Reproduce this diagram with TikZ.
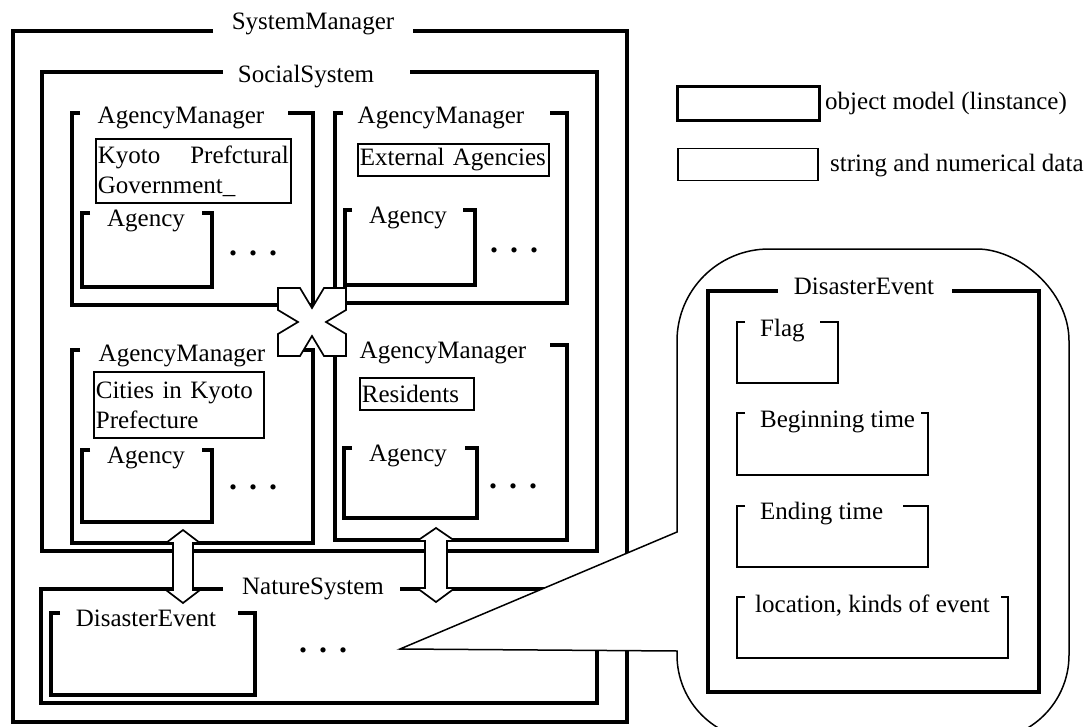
\documentclass[tikz,border=0pt]{standalone}
\usepackage{fontspec}
\setmainfont{Liberation Serif}
\hyphenpenalty=10000
\exhyphenpenalty=10000
\begin{document}
\begin{tikzpicture}[x=1pt,y=-1pt,
  font=\fontsize{25}{30}\selectfont,
  objframe/.style={line width=3.4pt, line join=miter},
  subframe/.style={line width=3.1pt, line join=miter},
  attrframe/.style={line width=1.9pt, line join=miter},
  strbox/.style={draw, line width=1.7pt, anchor=north west, inner xsep=2pt, inner ysep=0pt, align=left},
  ttl/.style={anchor=base, inner sep=0pt},
  ttlw/.style={anchor=base west, inner sep=0pt},
  dotsty/.style={anchor=base, inner sep=0pt, font=\fontsize{32}{36}\selectfont\bfseries},
  bigarrow/.style={draw, fill=white, line width=1.7pt, line join=miter},
  callout/.style={draw, fill=white, line width=1.5pt, line join=miter}
]
\useasboundingbox (0,0) rectangle (1091,727);

% ---------- SystemManager ----------
\draw[objframe] (213,31) -- (13,31) -- (13,722) -- (627,722) -- (627,31) -- (413,31);
\node[ttl] (smT) at (313,30) {SystemManager};

% ---------- SocialSystem ----------
\draw[objframe] (223,72) -- (42,72) -- (42,551) -- (597,551) -- (597,72) -- (410,72);
\node[ttl] (ssT) at (306,83) {SocialSystem};

% ---------- AgencyManager 1 ----------
\draw[objframe] (80,113) -- (72,113) -- (72,305) -- (313,305) -- (313,113) -- (288,113);
\node[ttl] (am1T) at (181,124) {AgencyManager};
\node[strbox, minimum width=195, minimum height=64, text width=191] (kyoto) at (95,138) {Kyoto\hfill Prefctural\\Government\_};
\draw[subframe] (90,213) -- (82,213) -- (82,287) -- (212,287) -- (212,213) -- (202,213);
\node[ttl] (ag1T) at (146,227) {Agency};
\node[dotsty] (dots1) at (253,255) {.\hspace{12pt}.\hspace{12pt}.};

% ---------- AgencyManager 2 ----------
\draw[objframe] (343,113) -- (335,113) -- (335,303) -- (567,303) -- (567,113) -- (550,113);
\node[ttl] (am2T) at (441,124) {AgencyManager};
\node[strbox, minimum width=191, minimum height=32, text width=187] (ext) at (357,143) {External Agencies};
\draw[subframe] (352,210) -- (345,210) -- (345,285) -- (475,285) -- (475,210) -- (463,210);
\node[ttl] (ag2T) at (408,224) {Agency};
\node[dotsty] (dots2) at (514,252) {.\hspace{12pt}.\hspace{12pt}.};

% ---------- AgencyManager 3 ----------
\draw[objframe] (80,350) -- (72,350) -- (72,543) -- (313,543) -- (313,350) -- (288,350);
\node[ttl] (am3T) at (182,361) {AgencyManager};
\node[strbox, minimum width=170, minimum height=66, text width=166] (cities) at (93,371) {Cities in Kyoto\\Prefecture};
\draw[subframe] (90,450) -- (82,450) -- (82,522) -- (212,522) -- (212,450) -- (202,450);
\node[ttl] (ag3T) at (146,463) {Agency};
\node[dotsty] (dots3) at (253,489) {.\hspace{12pt}.\hspace{12pt}.};

% ---------- AgencyManager 4 ----------
\draw[objframe] (343,345) -- (335,345) -- (335,540) -- (567,540) -- (567,345) -- (550,345);
\node[ttl] (am4T) at (443,358) {AgencyManager};
\node[strbox, minimum width=114, minimum height=32, text width=110] (res) at (359,377) {Residents};
\draw[subframe] (352,448) -- (344,448) -- (344,518) -- (477,518) -- (477,448) -- (465,448);
\node[ttl] (ag4T) at (408,461) {Agency};
\node[dotsty] (dots4) at (513,488) {.\hspace{12pt}.\hspace{12pt}.};

% ---------- NatureSystem ----------
\draw[objframe] (223,589) -- (41,589) -- (41,703) -- (597,703) -- (597,589) -- (400,589);
\node[ttl] (nsT) at (313,594) {NatureSystem};
\draw[subframe] (60,613) -- (51,613) -- (51,695) -- (255,695) -- (255,613) -- (238,613);
\node[ttl] (deT) at (146,626) {DisasterEvent};
\node[dotsty] (dots5) at (323,652) {.\hspace{12pt}.\hspace{12pt}.};

% ---------- four-way cross arrow ----------
\draw[bigarrow, shift={(312,322)}]
  (-34,-34) -- (-12,-34) -- (-9,-29) -- (0,-14) -- (9,-29) -- (12,-34) -- (34,-34)
  -- (34,-12) -- (29,-9) -- (14,0) -- (29,9) -- (34,12) -- (34,34)
  -- (12,34) -- (9,29) -- (0,14) -- (-9,29) -- (-12,34) -- (-34,34)
  -- (-34,12) -- (-29,9) -- (-14,0) -- (-29,-9) -- (-34,-12) -- cycle;

% ---------- vertical double arrows ----------
\draw[bigarrow] (183,530) -- (200,543) -- (193,543) -- (193,590) -- (200,590) -- (183,603)
  -- (166,590) -- (173,590) -- (173,543) -- (166,543) -- cycle;
\draw[bigarrow] (436,528) -- (455,541) -- (447,541) -- (447,588) -- (455,588) -- (436,602)
  -- (417,588) -- (425,588) -- (425,541) -- (417,541) -- cycle;

% ---------- callout ----------
\draw[callout] (400,649) -- (677,532) -- (677,341)
  .. controls (677,290.2) and (718.2,249) .. (769,249)
  -- (977,249) .. controls (1018.2,249) and (1069,290.2) .. (1069,341)
  -- (1069,655) .. controls (1069,702) and (1031,740) .. (984,740)
  -- (762,740) .. controls (715,740) and (677,702) .. (677,655)
  -- (677,651) -- cycle;

\draw[objframe] (778,291) -- (708,291) -- (708,692) -- (1039,692) -- (1039,291) -- (952,291);
\node[ttl] (bigdeT) at (864,294) {DisasterEvent};

\draw[attrframe] (745,322) -- (737,322) -- (737,383) -- (838,383) -- (838,322) -- (820,322);
\node[ttlw] (flagT) at (760,336) {Flag};
\draw[attrframe] (745,413) -- (737,413) -- (737,475) -- (928,475) -- (928,413) -- (921,413);
\node[ttlw] (beginT) at (760,427) {Beginning time};
\draw[attrframe] (745,506) -- (737,506) -- (737,567) -- (928,567) -- (928,506) -- (903,506);
\node[ttlw] (endT) at (760,519) {Ending time};
\draw[attrframe] (745,597) -- (737,597) -- (737,658) -- (1008,658) -- (1008,597) -- (1001,597);
\node[ttlw] (locT) at (755,612) {location, kinds of event};

% ---------- legend ----------
\node[draw, line width=3.4pt, minimum width=142, minimum height=34, anchor=north west, inner sep=0pt] (lgObj) at (676,85) {};
\node[ttlw] (lgObjT) at (825,110) {object model (linstance)};
\node[draw, line width=1.5pt, minimum width=140, minimum height=32, anchor=north west, inner sep=0pt] (lgStr) at (677,148) {};
\node[ttlw] (lgStrT) at (830,172) {string and numerical data};
\end{tikzpicture}
\end{document}
